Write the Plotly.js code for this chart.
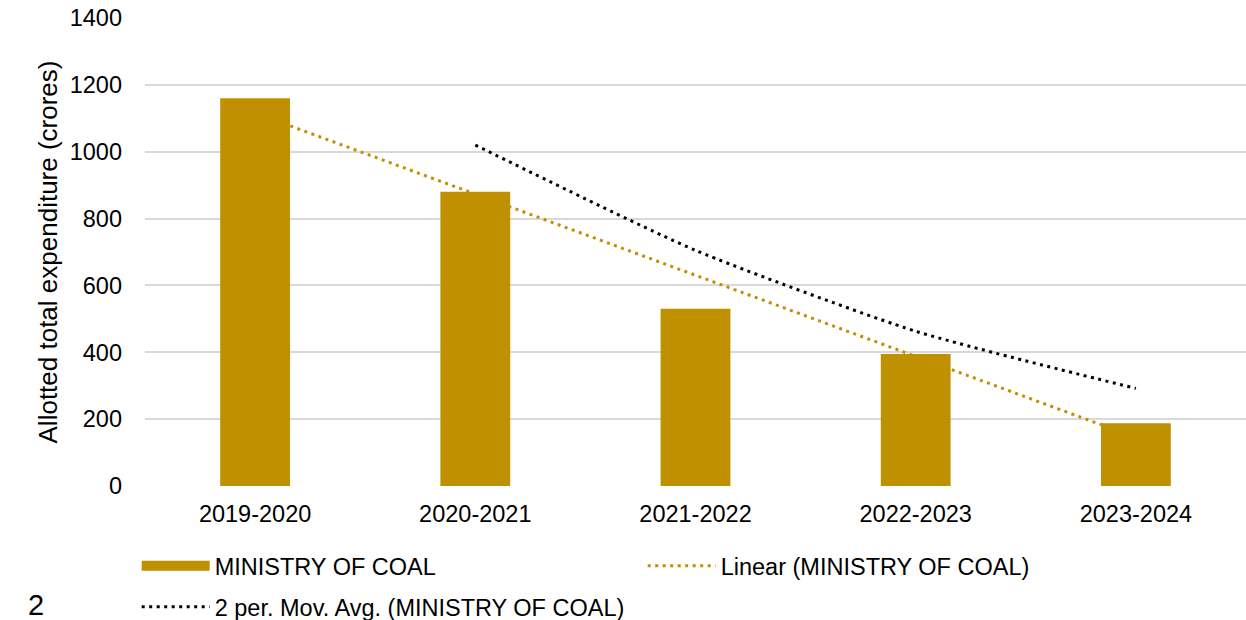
<!DOCTYPE html>
<html>
<head>
<meta charset="utf-8">
<script src="https://cdn.plot.ly/plotly-3.0.1.min.js"></script>
<style>
  html, body { margin: 0; padding: 0; background: #fff; }
  #chart { width: 1246px; height: 620px; }
</style>
</head>
<body>
<div id="chart"></div>
<script>
// values
const years = ['2019-2020', '2020-2021', '2021-2022', '2022-2023', '2023-2024'];
const expenditure = [1160, 880, 530, 395, 188];
const linearTrend = [1116, 873, 630, 388, 145];
const movAvgYears = ['2020-2021', '2021-2022', '2022-2023', '2023-2024'];
const movAvg = [1020, 705, 463, 292];

const gold = '#BF9000';
const font = 'Liberation Sans, Arial, sans-serif';
const fs = 23.5;

// trend lines sit on the base axes, bars on the overlay so they cover the trend
var linear_trace = {
    x: years,
    y: linearTrend,
    xaxis: 'x',
    yaxis: 'y',
    type: 'scatter',
    mode: 'lines',
    line: {color: gold, width: 3, dash: '3px,4.5px'},
    name: 'Linear (MINISTRY OF COAL)',
    legendrank: 2,
    hoverinfo: 'skip'
};
var movavg_trace = {
    x: movAvgYears,
    y: movAvg,
    xaxis: 'x',
    yaxis: 'y',
    type: 'scatter',
    mode: 'lines',
    line: {color: '#000000', width: 3, dash: '3px,4.5px', shape: 'spline', smoothing: 0.6},
    name: '2 per. Mov. Avg. (MINISTRY OF COAL)',
    legend: 'legend2',
    hoverinfo: 'skip'
};
var bar_trace = {
    x: years,
    y: expenditure,
    xaxis: 'x2',
    yaxis: 'y2',
    type: 'bar',
    marker: {color: gold},
    name: 'MINISTRY OF COAL',
    showlegend: false
};
// legend-only entry so the bar key is a wide block like Excel's
var bar_key = {
    x: [null],
    y: [null],
    xaxis: 'x2',
    yaxis: 'y2',
    type: 'scatter',
    mode: 'lines',
    line: {color: gold, width: 11},
    name: 'MINISTRY OF COAL',
    legendrank: 1,
    hoverinfo: 'skip'
};

const layout = {
    width: 1246,
    height: 620,
    margin: {l: 145, r: 0, t: 18, b: 134, autoexpand: false},
    paper_bgcolor: '#ffffff',
    plot_bgcolor: '#ffffff',
    font: {family: font, size: fs, color: '#000000'},
    bargap: 0.683,
    showlegend: true,
    xaxis: {
        type: 'category',
        categoryorder: 'array',
        categoryarray: years,
        range: [-0.5, 4.5],
        showgrid: false,
        zeroline: false,
        showline: false,
        ticks: '',
        ticklabelstandoff: 11,
        tickfont: {size: fs}
    },
    yaxis: {
        range: [0, 1400],
        dtick: 200,
        showgrid: true,
        gridcolor: '#d9d9d9',
        gridwidth: 2,
        zeroline: false,
        showline: false,
        ticks: '',
        ticklabelstandoff: 22,
        tickfont: {size: fs},
        title: {text: 'Allotted total expenditure (crores)', font: {size: 26}, standoff: 4}
    },
    xaxis2: {
        type: 'category',
        categoryorder: 'array',
        categoryarray: years,
        range: [-0.5, 4.5],
        overlaying: 'x',
        visible: false
    },
    yaxis2: {
        range: [0, 1400],
        overlaying: 'y',
        visible: false
    },
    legend: {
        orientation: 'h',
        xref: 'container',
        x: 0.1097,
        xanchor: 'left',
        yref: 'container',
        y: 0.0871,
        yanchor: 'middle',
        itemwidth: 68,
        entrywidth: 423,
        entrywidthmode: 'pixels',
        font: {size: fs},
        bgcolor: 'rgba(0,0,0,0)'
    },
    legend2: {
        orientation: 'h',
        xref: 'container',
        x: 0.1097,
        xanchor: 'left',
        yref: 'container',
        y: 0.021,
        yanchor: 'middle',
        itemwidth: 68,
        font: {size: fs},
        bgcolor: 'rgba(0,0,0,0)'
    },
    annotations: [{
        text: '2',
        xref: 'paper', yref: 'paper',
        x: -0.099, y: -0.254,
        xanchor: 'center', yanchor: 'middle',
        showarrow: false,
        font: {size: 29, color: '#000000'}
    }]
};

Plotly.newPlot('chart', [linear_trace, movavg_trace, bar_trace, bar_key], layout, {displayModeBar: false, staticPlot: true});
</script>
</body>
</html>
